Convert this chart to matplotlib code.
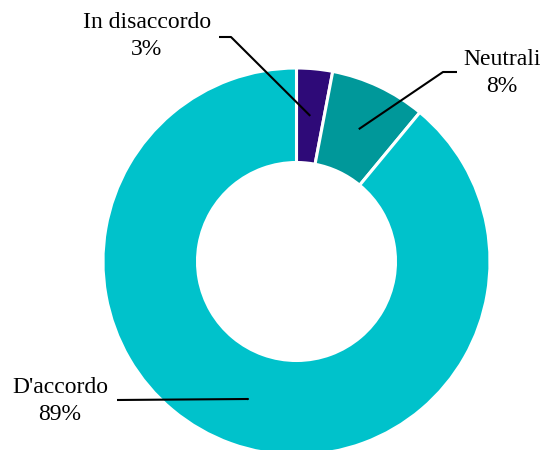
import numpy as np
import matplotlib
matplotlib.use("Agg")
import matplotlib.pyplot as plt

# Survey answers, share of respondents (%)
categories = ["In disaccordo", "Neutrali", "D'accordo"]
shares = [3, 8, 89]
colors = ["#2E0A78", "#00989A", "#00C2CB"]

# label text placement (pixel coords, y from top) and elbow of the leader line
label_pos = [(147, 36), (502, 73), (60, 401)]
elbow_pos = [(231, 37), (443, 72), (248, 399)]
line_end = [(219, 37), (457, 72), (117, 400)]

W, H = 542, 450
cx, cy = 296.5, 261.5
r_out, r_in = 193.5, 99.0

plt.rcParams['font.family'] = ['Liberation Serif', 'DejaVu Serif']

fig = plt.figure(figsize=(W / 100, H / 100), dpi=100)
ax = fig.add_axes([0, 0, 1, 1])
ax.set_xlim(0, W)
ax.set_ylim(0, H)
ax.set_aspect('equal')
ax.axis('off')

wedges, _ = ax.pie(shares, colors=colors, startangle=90, counterclock=False,
                   center=(cx, H - cy), radius=r_out,
                   wedgeprops=dict(width=r_out - r_in, edgecolor='white', linewidth=2.2))
ax.set_xlim(0, W)
ax.set_ylim(0, H)

r_mid = (r_out + r_in) / 2
for w, name, val, lp, el, le in zip(wedges, categories, shares, label_pos, elbow_pos, line_end):
    ang = np.deg2rad((w.theta1 + w.theta2) / 2)
    ax0 = cx + r_mid * np.cos(ang)
    ay0 = (H - cy) + r_mid * np.sin(ang)
    ax.plot([ax0, el[0], le[0]], [ay0, H - el[1], H - le[1]],
            color='black', lw=1.5, solid_capstyle='butt')
    ax.text(lp[0], H - lp[1], f"{name}\n{val}%", ha='center', va='center',
            fontsize=17, linespacing=1.35, color='black')

fig.savefig("out.png", dpi=100)
